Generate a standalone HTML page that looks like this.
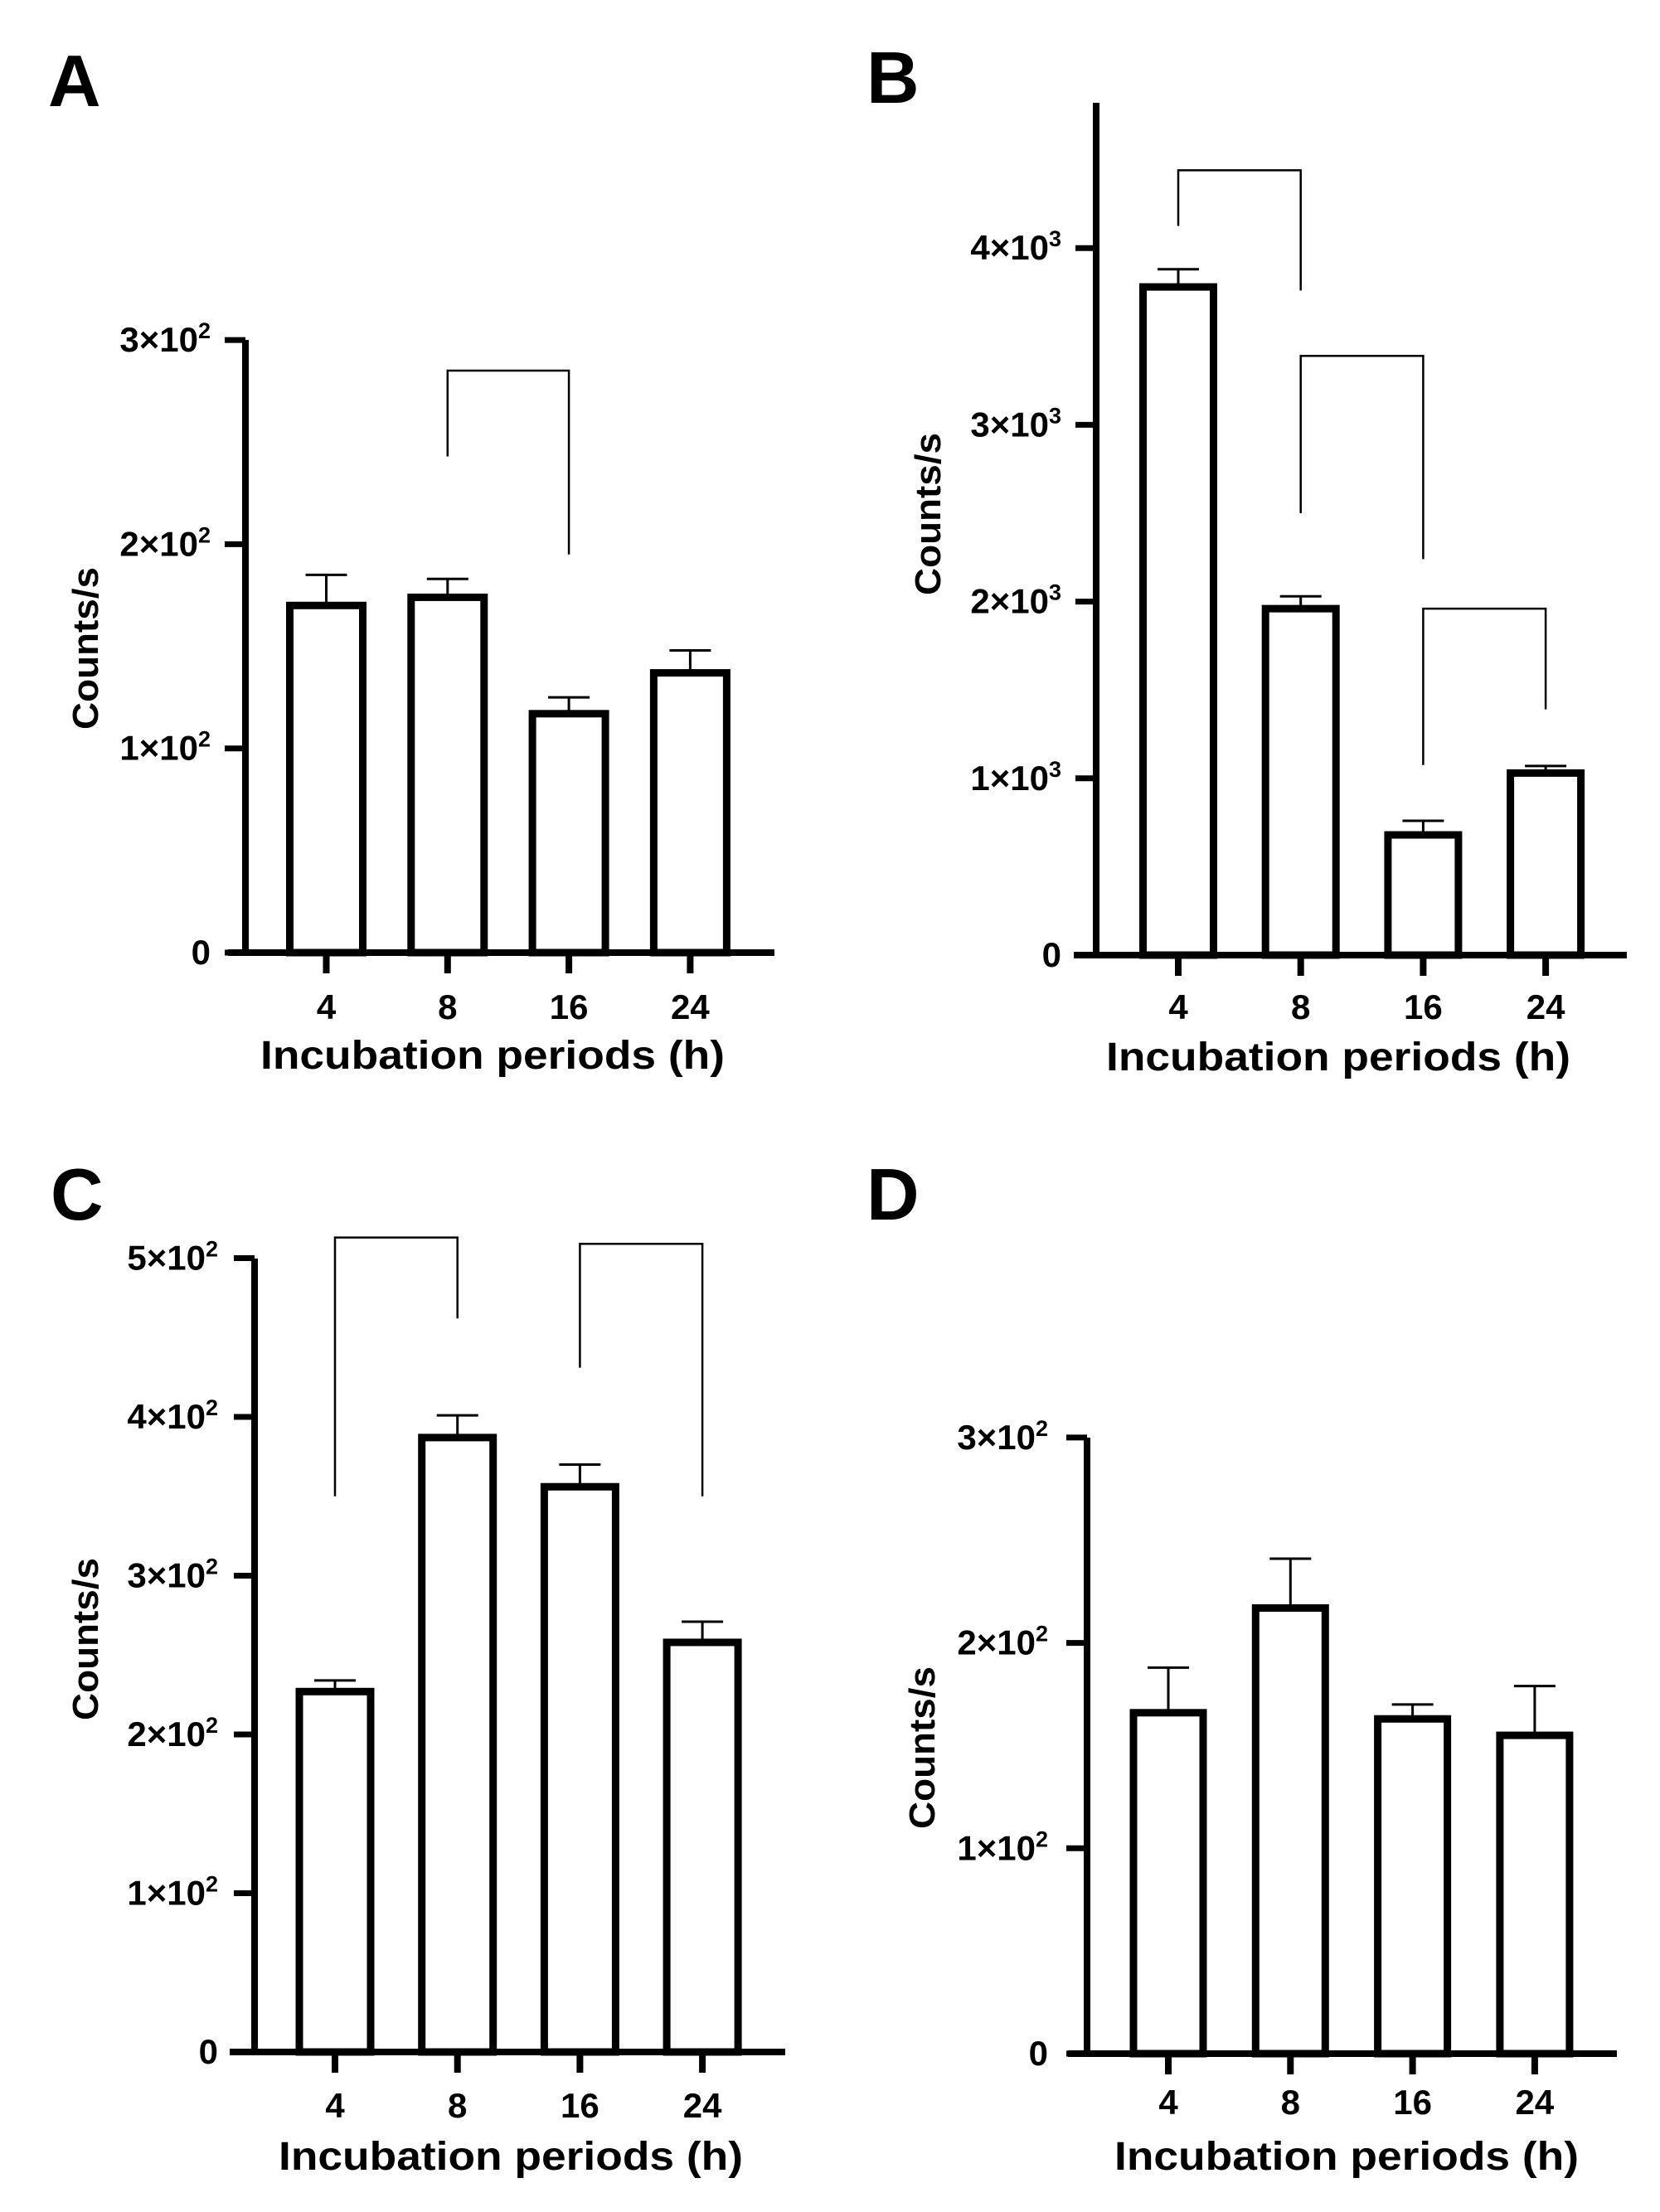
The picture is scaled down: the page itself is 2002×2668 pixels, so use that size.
<!DOCTYPE html>
<html><head><meta charset="utf-8">
<style>
html,body{margin:0;padding:0;background:#fff;}
svg{display:block;font-family:"Liberation Sans",Arial,sans-serif;font-weight:bold;}
</style></head>
<body>
<svg id="fig" width="2002" height="2668" viewBox="0 0 2002 2668" xmlns="http://www.w3.org/2000/svg"></svg>
<script>
const categories = ["4","8","16","24"];
const valuesA = [170, 174, 117, 137];
const errorsA = [185, 183, 125, 148];
const valuesB = [3.78, 1.96, 0.68, 1.03];
const errorsB = [3.88, 2.03, 0.76, 1.07];
const valuesC = [2.27, 3.87, 3.56, 2.58];
const errorsC = [2.34, 4.01, 3.70, 2.71];
const valuesD = [166, 217, 163, 155];
const errorsD = [188, 241, 170, 179];
const ticksA = [0, 100, 200, 300];
const tickLabelsA = ["0", "1×10|2", "2×10|2", "3×10|2"];
const ticksB = [0, 1, 2, 3, 4];
const tickLabelsB = ["0", "1×10|3", "2×10|3", "3×10|3", "4×10|3"];
const ticksC = [0, 1, 2, 3, 4, 5];
const tickLabelsC = ["0", "1×10|2", "2×10|2", "3×10|2", "4×10|2", "5×10|2"];
const ticksD = [0, 100, 200, 300];
const tickLabelsD = ["0", "1×10|2", "2×10|2", "3×10|2"];
// brackets: [fromIndex, toIndex, topValue, leftBottomValue, rightBottomValue]
const bracketsA = [[1, 2, 285, 243, 195]];
const bracketsB = [[0, 1, 4.44, 4.125, 3.76], [1, 2, 3.39, 2.5, 2.24], [2, 3, 1.96, 1.075, 1.39]];
const bracketsC = [[0, 1, 5.13, 3.5, 4.62], [2, 3, 5.09, 4.31, 3.5]];
const bracketsD = [];

const NS = "http://www.w3.org/2000/svg";
const svg = document.getElementById("fig");
function mk(tag, attrs, parent){
  const e = document.createElementNS(NS, tag);
  for (const k in attrs) e.setAttribute(k, attrs[k]);
  (parent||svg).appendChild(e);
  return e;
}

const panels = [
  {id:"a", letter:"A", lx:58, ly:128, ax:296, y0:1149, yTop:410, ppu:2.463, xL:275, xR:934, first:97.5, step:146.3, barW:88,
   vals:valuesA, errs:errorsA, ticks:ticksA, tl:tickLabelsA, br:bracketsA, tlx:254, catY:1229, titleX:594, titleY:1289, ytX:118, ytY:782},
  {id:"b", letter:"B", lx:1045, ly:124, ax:1322, y0:1152, yTop:124, ppu:213.2, xL:1295, xR:1962, first:99, step:147.7, barW:85,
   vals:valuesB, errs:errorsB, ticks:ticksB, tl:tickLabelsB, br:bracketsB, tlx:1280, catY:1229, titleX:1614, titleY:1291, ytX:1134, ytY:620},
  {id:"c", letter:"C", lx:61, ly:1471, ax:307, y0:2475, yTop:1518, ppu:191.5, xL:277, xR:947, first:97, step:147.7, barW:86,
   vals:valuesC, errs:errorsC, ticks:ticksC, tl:tickLabelsC, br:bracketsC, tlx:263, catY:2554, titleX:616, titleY:2617, ytX:118, ytY:1977},
  {id:"d", letter:"D", lx:1045, ly:1471, ax:1311, y0:2477, yTop:1734, ppu:2.477, xL:1288, xR:1950, first:98, step:147.3, barW:84,
   vals:valuesD, errs:errorsD, ticks:ticksD, tl:tickLabelsD, br:bracketsD, tlx:1264, catY:2550, titleX:1624, titleY:2617, ytX:1127, ytY:2108}
];

panels.forEach(p => {
  const g = mk("g", {});
  
  
  const ys = v => p.y0 - v * p.ppu;
  const xs = i => p.ax + p.first + i * p.step;

  const letter = mk("text", {x:p.lx, y:p.ly, "font-size":88}, g);
  letter.textContent = p.letter;
  
  

  p.vals.forEach((v, i) => {
    const cx = xs(i);
    const r = mk("rect", {x:cx - p.barW/2, y:ys(v), width:p.barW, height:p.y0 - ys(v), fill:"#fff", stroke:"#000", "stroke-width":9}, g);
    
    
    const e = mk("path", {d:`M${cx} ${ys(v)-4}V${ys(p.errs[i])}M${cx-25} ${ys(p.errs[i])}H${cx+25}`, stroke:"#000", "stroke-width":3, fill:"none"}, g);
    
    
  });

  const yAxis = mk("line", {x1:p.ax, y1:p.yTop, x2:p.ax, y2:p.y0 + 4, stroke:"#000", "stroke-width":8}, g);
  
  
  const xAxis = mk("line", {x1:p.xL, y1:p.y0, x2:p.xR, y2:p.y0, stroke:"#000", "stroke-width":8}, g);
  
  

  p.ticks.forEach((t, k) => {
    const y = ys(t);
    const tk = mk("line", {x1:p.ax - 25, y1:y, x2:p.ax, y2:y, stroke:"#000", "stroke-width":7}, g);
    
    
    const parts = p.tl[k].split("|");
    const tx = mk("text", {x:p.tlx, y:y + 14, "font-size":42, "text-anchor":"end"}, g);
    
    
    const s1 = mk("tspan", {}, tx); s1.textContent = parts[0];
    if (parts[1]) { const s2 = mk("tspan", {"font-size":27, dy:-16}, tx); s2.textContent = parts[1]; }
  });

  categories.forEach((c, i) => {
    const cx = xs(i);
    const tk = mk("line", {x1:cx, y1:p.y0, x2:cx, y2:p.y0 + 25, stroke:"#000", "stroke-width":8}, g);
    
    
    const t = mk("text", {x:cx, y:p.catY, "font-size":42, "text-anchor":"middle"}, g);
    t.textContent = c;
    
    
  });

  p.br.forEach(b => {
    const x1 = xs(b[0]), x2 = xs(b[1]);
    const pth = mk("path", {d:`M${x1} ${ys(b[3])}V${ys(b[2])}H${x2}V${ys(b[4])}`, stroke:"#000", "stroke-width":2.5, fill:"none"}, g);
    
    
  });

  const xt = mk("text", {x:p.titleX, y:p.titleY, "font-size":48, "text-anchor":"middle", textLength:560, lengthAdjust:"spacingAndGlyphs"}, g);
  xt.textContent = "Incubation periods (h)";
  
  

  const yt = mk("text", {x:0, y:0, "font-size":44, "text-anchor":"middle", textLength:196, lengthAdjust:"spacingAndGlyphs", transform:`translate(${p.ytX},${p.ytY}) rotate(-90)`}, g);
  yt.textContent = "Counts/s";
  
  
});
</script>
</body></html>
